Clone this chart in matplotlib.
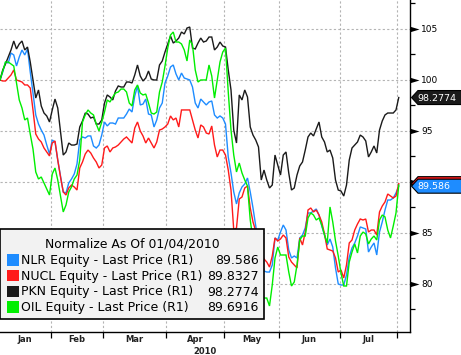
import numpy as np
import matplotlib
matplotlib.use("Agg")
import matplotlib.pyplot as plt
from matplotlib.patches import Rectangle, Polygon
from matplotlib.path import Path
from matplotlib.transforms import Affine2D, IdentityTransform
from matplotlib.ticker import MultipleLocator, FixedLocator, NullFormatter, FuncFormatter

# ---------------- data ----------------
holidays = ["2010-01-18", "2010-02-15", "2010-04-02", "2010-05-31", "2010-07-05"]
start_date, end_date = "2010-01-04", "2010-08-03"
month_labels = ["Jan", "Feb", "Mar", "Apr", "May", "Jun", "Jul"]
year_label = "2010"
legend_title = "Normalize As Of 01/04/2010"
series_names = ["NLR Equity - Last Price (R1)", "NUCL Equity - Last Price (R1)",
                "PKN Equity - Last Price (R1)", "OIL Equity - Last Price (R1)"]
last_labels = ["89.586", "89.8327", "98.2774", "89.6916"]
y_ticks = [80, 85, 90, 95, 100, 105]

nlr = [100.0, 100.78, 101.76, 101.66, 102.64, 102.45, 101.37, 102.25, 102.94, 102.45,
       103.04, 100.78, 98.72, 96.57, 95.68, 95.09, 94.60, 93.62, 92.74, 94.11,
       93.92, 92.15, 90.59, 89.02, 88.92, 89.90, 90.29, 90.78, 91.76, 94.11,
       94.41, 94.31, 94.51, 94.51, 93.53, 93.33, 93.62, 94.60, 95.88, 95.49,
       95.78, 95.78, 95.68, 96.27, 96.27, 96.27, 96.66, 97.15, 96.86, 98.43,
       99.41, 97.55, 97.64, 98.13, 96.66, 96.57, 95.39, 96.08, 97.25, 97.74,
       99.70, 100.39, 101.27, 101.47, 100.59, 100.0, 100.68, 100.19, 100.09, 100.0,
       99.31, 97.74, 97.25, 98.13, 97.84, 97.55, 97.84, 97.94, 96.57, 96.27,
       96.47, 96.27, 95.68, 92.45, 90.88, 89.02, 87.84, 88.92, 89.51, 89.80,
       90.39, 89.02, 87.45, 85.68, 83.82, 82.55, 81.27, 81.17, 81.17, 81.86,
       84.51, 84.31, 85.09, 85.78, 85.29, 83.33, 82.55, 82.74, 82.55, 84.51,
       84.80, 85.49, 86.96, 86.96, 87.15, 87.35, 86.76, 85.68, 84.80, 83.82,
       84.41, 83.62, 81.57, 80.00, 79.90, 79.90, 80.88, 82.64, 83.53, 84.02,
       84.70, 85.59, 85.49, 85.39, 83.13, 83.62, 84.02, 82.84, 85.09, 86.08,
       87.25, 88.23, 88.23, 88.43, 88.92, 89.586]

nucl = [100.0, 99.90, 99.90, 100.19, 100.49, 100.98, 100.0, 99.90, 99.80, 99.51,
        99.51, 99.21, 97.06, 94.70, 94.21, 93.92, 93.33, 92.94, 92.55, 93.82,
        94.02, 92.15, 90.49, 89.02, 88.72, 89.41, 89.70, 89.51, 89.21, 91.37,
        91.96, 92.74, 93.13, 92.84, 92.35, 91.96, 91.37, 91.66, 93.33, 93.53,
        92.94, 93.33, 93.43, 93.62, 93.92, 94.21, 94.41, 94.11, 93.82, 95.29,
        95.88, 95.00, 94.51, 93.82, 94.31, 93.82, 93.33, 93.92, 95.09, 95.19,
        95.39, 95.68, 96.47, 96.08, 96.27, 95.39, 97.06, 97.06, 97.06, 97.06,
        96.08, 95.09, 94.31, 95.59, 95.39, 94.80, 94.70, 95.49, 93.62, 92.45,
        93.13, 93.13, 92.64, 91.17, 89.21, 85.29, 85.49, 88.33, 88.53, 89.41,
        89.60, 87.45, 86.08, 85.19, 83.53, 83.04, 82.45, 82.15, 81.66, 82.74,
        84.51, 84.21, 84.41, 84.80, 84.51, 82.64, 82.15, 81.86, 81.57, 84.51,
        83.82, 85.09, 87.25, 87.45, 87.06, 87.25, 86.76, 86.08, 84.90, 83.43,
        83.33, 83.23, 82.55, 81.17, 81.37, 80.59, 81.86, 84.02, 84.31, 85.29,
        85.88, 86.37, 86.27, 86.37, 85.09, 85.29, 85.29, 84.80, 87.06, 87.64,
        88.04, 88.82, 88.62, 88.43, 88.62, 89.8327]

pkn = [100.0, 100.98, 101.57, 102.25, 102.94, 103.82, 103.04, 103.53, 103.82, 102.94,
       103.23, 101.76, 100.0, 98.23, 99.02, 97.45, 96.76, 96.47, 95.88, 97.06,
       98.13, 97.25, 94.90, 92.64, 92.94, 93.82, 93.62, 93.62, 93.72, 95.39,
       95.98, 96.76, 96.66, 96.27, 96.37, 95.68, 95.68, 96.08, 97.74, 98.53,
       98.33, 98.04, 98.92, 99.41, 99.31, 99.31, 99.80, 99.80, 99.70, 100.49,
       101.47, 100.39, 99.90, 100.19, 100.88, 100.09, 100.0, 100.0, 101.47, 101.86,
       102.74, 103.53, 104.31, 103.62, 103.82, 104.11, 104.70, 104.51, 105.09, 105.19,
       103.13, 103.04, 103.62, 104.11, 103.72, 103.82, 104.21, 104.21, 102.94, 103.23,
       103.72, 103.33, 103.23, 100.98, 99.02, 95.09, 93.82, 98.53, 98.04, 99.02,
       98.33, 95.39, 94.60, 94.11, 93.43, 90.19, 91.17, 90.19, 89.41, 89.70,
       92.64, 91.66, 90.68, 92.64, 92.94, 90.88, 89.21, 89.41, 90.68, 91.57,
       91.96, 93.13, 94.41, 94.80, 94.51, 95.19, 95.88, 94.41, 93.92, 92.94,
       93.13, 92.35, 90.19, 89.21, 89.11, 88.62, 89.70, 92.15, 93.33, 93.62,
       93.92, 94.60, 94.41, 94.02, 92.45, 92.94, 93.53, 92.84, 95.09, 95.98,
       96.57, 96.76, 96.76, 96.76, 97.06, 98.2774]

oil = [100.0, 100.88, 101.76, 101.76, 101.57, 101.37, 99.70, 98.04, 97.25, 96.08,
       96.27, 94.70, 93.23, 90.98, 90.29, 90.49, 89.90, 89.31, 88.72, 90.78,
       91.37, 90.19, 88.62, 87.06, 87.74, 89.02, 89.51, 90.29, 90.68, 92.15,
       95.88, 96.57, 97.06, 96.76, 96.57, 95.68, 95.00, 95.88, 96.86, 98.04,
       97.84, 98.33, 98.72, 98.82, 99.11, 99.11, 98.82, 97.74, 97.45, 99.02,
       99.51, 98.72, 98.53, 98.62, 97.74, 96.76, 96.66, 96.86, 98.82, 99.80,
       101.37, 103.13, 104.41, 104.70, 103.72, 103.72, 103.53, 102.94, 101.86, 103.92,
       103.43, 100.98, 99.80, 100.0, 100.0, 100.0, 101.47, 100.39, 98.23, 100.0,
       101.76, 102.74, 103.13, 98.82, 95.09, 92.64, 90.98, 91.86, 90.88, 90.19,
       89.60, 86.27, 84.31, 82.15, 80.39, 79.21, 78.62, 78.62, 77.84, 79.90,
       82.55, 83.62, 82.84, 82.84, 82.84, 81.17, 79.80, 80.19, 81.86, 84.31,
       84.70, 84.70, 86.47, 86.96, 86.76, 86.27, 86.47, 85.78, 84.80, 84.02,
       87.55, 86.08, 84.21, 82.74, 81.08, 79.80, 79.80, 82.15, 83.13, 83.92,
       83.04, 84.70, 85.09, 84.90, 83.92, 84.41, 84.70, 84.31, 86.27, 86.76,
       86.57, 85.29, 84.51, 85.68, 86.96, 89.6916]

series = [nlr, nucl, pkn, oil]
colors = ["#1e8cff", "#ff1a1a", "#1a1a1a", "#00ee00"]

# ---------------- trading calendar ----------------
days = np.arange(np.datetime64(start_date), np.datetime64(end_date), dtype="datetime64[D]")
tdays = days[np.is_busday(days, holidays=holidays)]
months = tdays.astype("datetime64[M]")
first_idx = [0] + [i for i in range(1, len(tdays)) if months[i] != months[i - 1]]
boundaries = [i - 0.5 for i in first_idx[1:]]
spans = [-0.5] + boundaries
centers = [(spans[k] + spans[k + 1]) / 2 for k in range(len(month_labels))]

# ---------------- figure ----------------
W, H = 461, 355
fig = plt.figure(figsize=(W / 100, H / 100), dpi=100)
fig.patch.set_facecolor("white")
ax = fig.add_axes([0, 23 / H, 410 / W, 332 / H])
ax.set_xlim(0, 410 / 2.75)
ax.set_ylim(75.29, 107.84)

for v in y_ticks:
    ax.axhline(v, color="#b4b4b4", lw=0.8, ls=(0, (2, 2)), zorder=0.5)
for b in boundaries:
    ax.axvline(b, color="#b4b4b4", lw=0.8, ls=(0, (2, 2)), zorder=0.5)

for vals, c in zip(series, colors):
    x = np.arange(len(vals))
    ax.plot(x, vals, color=c, lw=1.0, zorder=2, solid_joinstyle="miter")

for s in ["left", "top"]:
    ax.spines[s].set_visible(False)
for s in ["right", "bottom"]:
    ax.spines[s].set_color("black")
    ax.spines[s].set_linewidth(1.0)

# tick labels hidden behind a last-value tag (as in the reference) are left blank
last_vals = [s[-1] for s in series]
def ylab(v, pos):
    if any(abs(v - lv) < 0.7 for lv in last_vals):
        return ""
    return f"{v:g}"

# y axis on the right
ax.yaxis.tick_right()
ax.yaxis.set_major_locator(FixedLocator(y_ticks))
ax.yaxis.set_major_formatter(FuncFormatter(ylab))
ax.yaxis.set_minor_locator(MultipleLocator(2.5))
ax.tick_params(axis="y", which="major", length=0, pad=8, labelsize=6.5, labelcolor="black")
ax.tick_params(axis="y", which="minor", length=3.5, width=0.9, direction="out", color="black")
tri = Path([(0, -0.3), (0, 0.3), (1, 0), (0, -0.3)])
ax.plot([1.0] * len(y_ticks), y_ticks, transform=ax.get_yaxis_transform(), ls="none",
        marker=tri, ms=13, mew=0, color="black", clip_on=False, zorder=5)

# x axis
ax.xaxis.set_major_locator(FixedLocator(boundaries))
ax.xaxis.set_major_formatter(NullFormatter())
ax.tick_params(axis="x", which="major", length=4, width=0.9, direction="out", color="black")
xt = ax.get_xaxis_transform()
for lab, cx in zip(month_labels, centers):
    ax.text(cx, -8 / 332, lab, transform=xt, ha="center", va="center",
            fontsize=6, fontweight="bold", color="#222222")
ax.text(0.5, -19 / 332, year_label, transform=ax.transAxes, ha="center", va="center",
        fontsize=6, fontweight="bold", color="#222222")

# ---------------- legend (image pixel coords) ----------------
img = Affine2D().scale(1, -1).translate(0, H)
fig.add_artist(Rectangle((0, 229), 264, 90, transform=img, facecolor="#f2f2f2",
                         edgecolor="black", lw=1.2, zorder=3))
fig.add_artist(plt.Text(132, 244, legend_title, transform=img, ha="center", va="center",
                        fontsize=8.9, color="black", zorder=4))
row_y = [260.5, 276.2, 292, 307.8]
for name, lab, c, ry in zip(series_names, last_labels, colors, row_y):
    fig.add_artist(Rectangle((7, ry - 6.5), 11.5, 11.5, transform=img, facecolor=c,
                             edgecolor="none", zorder=4))
    fig.add_artist(plt.Text(21, ry, name, transform=img, ha="left", va="center",
                            fontsize=9, color="black", zorder=4))
    fig.add_artist(plt.Text(259, ry, lab, transform=img, ha="right", va="center",
                            fontsize=9, color="black", zorder=4))

# ---------------- last value tags ----------------
fig.canvas.draw()
x0 = ax.bbox.x1
tag_order = [3, 1, 0, 2]          # drawing order; later tags cover earlier ones
visible_text = {0, 2}             # only these tag labels are visible in the reference
for k in tag_order:
    vals = series[k]
    yv = ax.transData.transform((0, vals[-1]))[1]
    pts = [(x0 + 1.5, yv), (x0 + 8, yv + 7), (W + 5, yv + 7), (W + 5, yv - 7), (x0 + 8, yv - 7)]
    fig.add_artist(Polygon(pts, closed=True, transform=IdentityTransform(),
                           facecolor=colors[k], edgecolor="black", lw=0.8, zorder=6))
    if k in visible_text:
        fig.add_artist(plt.Text(x0 + 7, yv - 0.5, last_labels[k], transform=IdentityTransform(),
                                ha="left", va="center", fontsize=6.8, color="white", zorder=7))

fig.savefig("out.png", dpi=100, facecolor="white")
